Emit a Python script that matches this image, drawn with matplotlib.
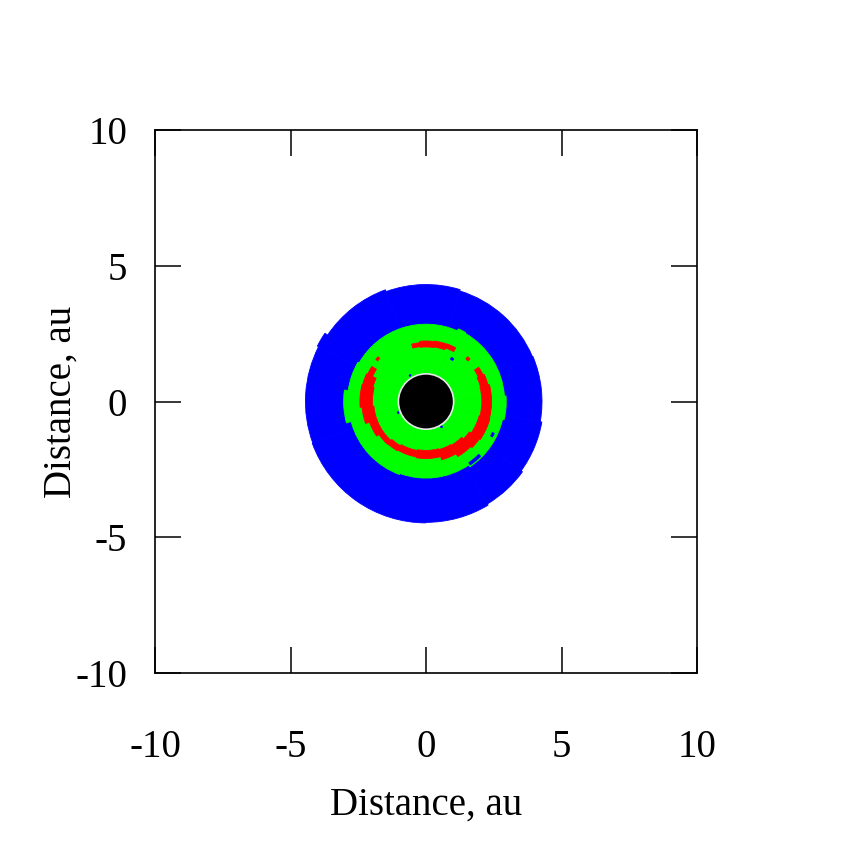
import matplotlib
matplotlib.use("Agg")
import matplotlib.pyplot as plt
from matplotlib.patches import Wedge, Circle

plt.rcParams['font.family'] = ['Liberation Serif', 'DejaVu Serif']
plt.rcParams['axes.unicode_minus'] = False

# outer zone (blue): sector edges in degrees and outer radius (au) of each sector
blue_edges = [-90, -59, -36, -10, 23, 73, 110, 146, 153, 200, 270]
blue_r = [4.45, 4.40, 4.34, 4.28, 4.26, 4.31, 4.38, 4.50, 4.45, 4.47]

# middle zone (green)
green_edges = [-110, -56, -13, 4, 60, 66, 150, 172, 195, 250]
green_r = [2.82, 2.90, 2.96, 2.90, 2.93, 2.85, 2.90, 3.04, 2.86]

# red patches: start angle, end angle, inner radius, outer radius
red_t1 = [61, 70, 82, 96, 44, 137, 147, 155, 165, 185, 200, 215, 228, 240, 260, 285, 300, 315, 325, 345, 375, 385]
red_t2 = [70, 82, 96, 104, 47, 140, 155, 165, 185, 200, 215, 228, 240, 260, 285, 300, 315, 325, 345, 375, 385, 393]
red_rin = [2.10, 2.03, 2.01, 2.03, 2.15, 2.33, 2.18, 2.03, 1.98, 1.93, 1.93, 1.93, 1.88, 1.83, 1.80, 1.83, 1.86, 1.95, 2.03, 2.06, 2.08, 2.13]
red_rout = [2.26, 2.25, 2.23, 2.18, 2.26, 2.42, 2.38, 2.42, 2.44, 2.37, 2.22, 2.12, 2.10, 2.07, 2.10, 2.22, 2.34, 2.40, 2.44, 2.42, 2.37, 2.32]

# small blue inclusions inside the green zone
speck_t1 = [-55, 57, -28, 120, 200, 300]
speck_t2 = [-45, 60, -25, 123, 203, 303]
speck_rin = [2.75, 1.80, 2.70, 1.10, 1.08, 1.06]
speck_rout = [2.85, 1.88, 2.78, 1.15, 1.13, 1.12]

star_r = 1.02

fig = plt.figure(figsize=(8.5, 8.5), dpi=100)
ax = fig.add_axes([0.1824, 0.2082, 0.6376, 0.6388])

def ring(r_out, t1, t2, col, width=None):
    # edge drawn in the same colour to hide the seams between sectors
    ax.add_patch(Wedge((0, 0), r_out, t1, t2, width=width, facecolor=col, edgecolor=col, lw=0.6))

for i in range(len(blue_r)):
    ring(blue_r[i], blue_edges[i], blue_edges[i+1], '#0000ff')
for i in range(len(green_r)):
    ring(green_r[i], green_edges[i], green_edges[i+1], '#00ff00')
for i in range(len(red_t1)):
    ring(red_rout[i], red_t1[i], red_t2[i], '#ff0000', red_rout[i]-red_rin[i])
for i in range(len(speck_t1)):
    ring(speck_rout[i], speck_t1[i], speck_t2[i], '#0000ff', speck_rout[i]-speck_rin[i])
ax.add_patch(Circle((0, 0), star_r, facecolor='black', edgecolor='#e8e8e8', lw=1.2))

ax.set_xlim(-10, 10)
ax.set_ylim(-10, 10)
ax.set_xticks([-10, -5, 0, 5, 10])
ax.set_yticks([-10, -5, 0, 5, 10])
ax.tick_params(direction='in', length=19, width=1.1, top=True, right=True, labelsize=28)
ax.tick_params(axis='x', pad=40)
ax.tick_params(axis='y', pad=20)
for s in ax.spines.values():
    s.set_linewidth(1.2)

ax.set_xlabel('Distance, au', fontsize=28)
ax.set_ylabel('Distance, au', fontsize=28)
ax.xaxis.set_label_coords(0.5, -0.21)
ax.yaxis.set_label_coords(-0.14, 0.5)

plt.savefig('out.png')
